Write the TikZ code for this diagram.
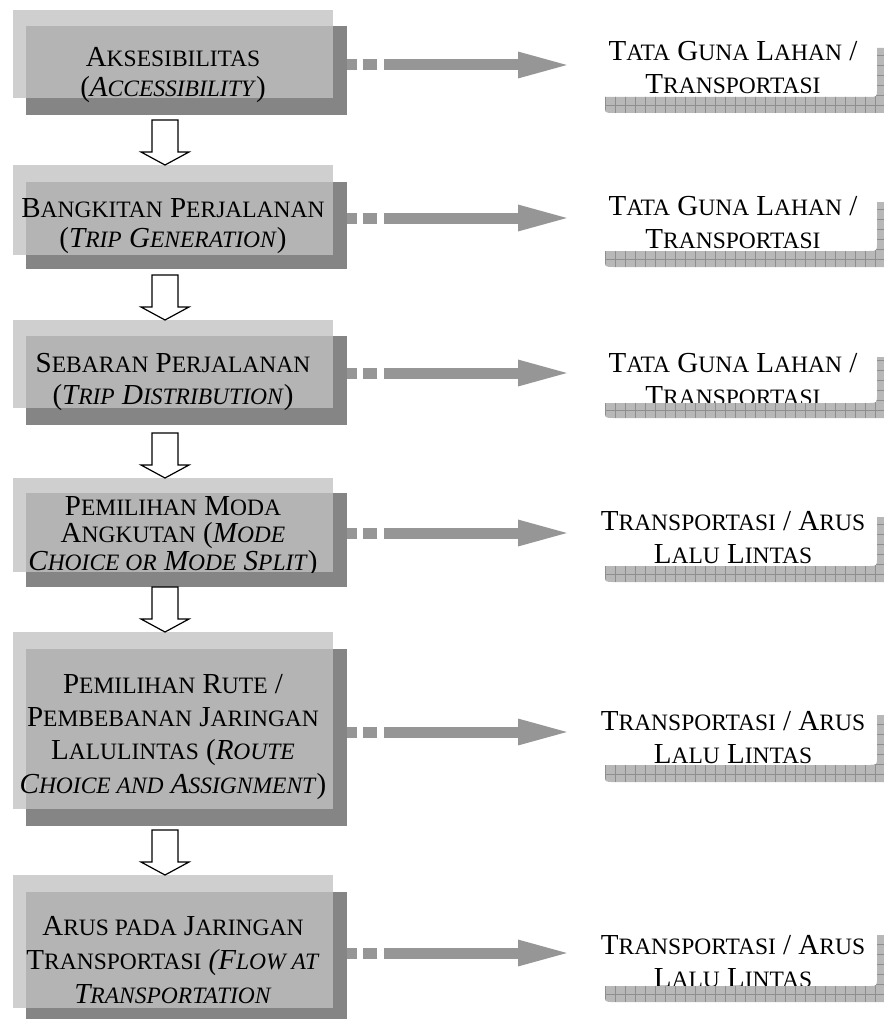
\documentclass[tikz,border=0pt]{standalone}
\usepackage{fontspec}
\setmainfont{Liberation Serif}
\usepackage{tikz}
\usetikzlibrary{arrows.meta}
\definecolor{cfront}{HTML}{C2C2C2}
\definecolor{cshade}{HTML}{858585}
\definecolor{cflow}{HTML}{969696}
\definecolor{cstrip}{HTML}{B8B8B8}
\definecolor{cgrid}{HTML}{8E8E8E}
\newcommand{\besar}[1]{\fontsize{29}{#1}\selectfont}
\newcommand{\kc}[1]{{\fontsize{23.5}{30}\selectfont #1}}

\begin{document}
\begin{tikzpicture}[x=1pt,y=-1pt,
    shadebox/.style={fill=cshade,inner sep=0pt,minimum width=321pt,anchor=north west},
    frontbox/.style={fill=cfront,fill opacity=.78,inner sep=0pt,minimum width=320pt,anchor=north west},
    boxtext/.style={align=center,inner sep=0pt,anchor=base},
    endtext/.style={align=center,inner sep=0pt,anchor=base,font=\besar{33}},
    flow/.style={draw=cflow,line width=11pt,dash pattern=on 10pt off 6pt on 14pt off 7pt on 400pt,
      -{Triangle[length=55pt,width=23pt,fill=cflow]}},
    hollow/.style={draw=black,fill=white,line width=1.2pt,line join=miter},
    gridline/.style={draw=cgrid,line width=.6pt}]
    \useasboundingbox (0,0) rectangle (883,1019);

    % shadows and boxes
    \node[shadebox,minimum height=89pt] (s1) at (26,26) {};
    \node[shadebox,minimum height=87pt] (s2) at (26,182) {};
    \node[shadebox,minimum height=89pt] (s3) at (26,336) {};
    \node[shadebox,minimum height=94pt] (s4) at (26,493) {};
    \node[shadebox,minimum height=177pt] (s5) at (26,649) {};
    \node[shadebox,minimum height=133pt] (s6) at (26,892) {};
    \node[frontbox,minimum height=88pt] (f1) at (13,10) {};
    \node[frontbox,minimum height=90pt] (f2) at (13,165) {};
    \node[frontbox,minimum height=88pt] (f3) at (13,320) {};
    \node[frontbox,minimum height=94pt] (f4) at (13,478) {};
    \node[frontbox,minimum height=177pt] (f5) at (13,632) {};
    \node[frontbox,minimum height=133pt] (f6) at (13,875) {};

    % text sits on the baseline of its last line
    \node[boxtext,font=\besar{30}] (t1) at (173,97) {A\kc{KSESIBILITAS}\\(\textit{A\kc{CCESSIBILITY}})};
    \node[boxtext,font=\besar{30}] (t2) at (173,247) {B\kc{ANGKITAN} P\kc{ERJALANAN}\\(\textit{T\kc{RIP} G\kc{ENERATION}})};
    \node[boxtext,font=\besar{32}] (t3) at (173,404) {S\kc{EBARAN} P\kc{ERJALANAN}\\(\textit{T\kc{RIP} D\kc{ISTRIBUTION}})};
    \begin{scope}
      \clip (f4.north west) rectangle (f4.south east);
      \node[boxtext,font=\besar{27.5}] (t4) at (173,570) {P\kc{EMILIHAN} M\kc{ODA}\\A\kc{NGKUTAN} (\textit{M\kc{ODE}}\\\textit{C\kc{HOICE OR} M\kc{ODE} S\kc{PLIT}})};
    \end{scope}
    \node[boxtext,font=\besar{33.3}] (t5) at (173,793) {P\kc{EMILIHAN} R\kc{UTE} /\\P\kc{EMBEBANAN} J\kc{ARINGAN}\\L\kc{ALULINTAS} (\textit{R\kc{OUTE}}\\\textit{C\kc{HOICE AND} A\kc{SSIGNMENT}})};
    \node[boxtext,font=\besar{34}] (t6) at (173,1003) {A\kc{RUS PADA} J\kc{ARINGAN}\\T\kc{RANSPORTASI} \textit{(F\kc{LOW AT}}\\\textit{T\kc{RANSPORTATION}}};

    % down arrows
    \foreach \b in {f2,f3,f4,f5,f6}
      \draw[hollow] (165,0 |- \b.north) -- ++(-24,-13) -- ++(11,0) -- ++(0,-32) -- ++(26,0) -- ++(0,32) -- ++(11,0) -- cycle;

    % side arrows
    \foreach \i/\y in {1/65,2/218,3/373,4/533,5/732,6/953} {
      \coordinate (e\i) at (573,\y);
      \draw[flow] (s\i.east |- e\i) -- (e\i);
    }

    \node[endtext] (r1) at (733,94) {T\kc{ATA} G\kc{UNA} L\kc{AHAN} /\\T\kc{RANSPORTASI}};
    \node[endtext] (r2) at (733,248) {T\kc{ATA} G\kc{UNA} L\kc{AHAN} /\\T\kc{RANSPORTASI}};
    \node[endtext] (r3) at (733,405) {T\kc{ATA} G\kc{UNA} L\kc{AHAN} /\\T\kc{RANSPORTASI}};
    \node[endtext] (r4) at (733,563) {T\kc{RANSPORTASI} / A\kc{RUS}\\L\kc{ALU} L\kc{INTAS}};
    \node[endtext] (r5) at (733,763) {T\kc{RANSPORTASI} / A\kc{RUS}\\L\kc{ALU} L\kc{INTAS}};
    \node[endtext] (r6) at (733,987) {T\kc{RANSPORTASI} / A\kc{RUS}\\L\kc{ALU} L\kc{INTAS}};

    % grid strips under the labels
    \foreach \st/\sb/\vt in {97/113/48,251/267/202,403/418/357,566/582/517,765/782/715,986/1002/935}
      \fill[cstrip,path picture={
          \foreach \gx in {605,615,...,895}
            \draw[gridline] (\gx,\vt) -- (\gx,\sb);
          \foreach \k in {0,...,7}
            \draw[gridline] (605,\sb-8-10*\k) -- (895,\sb-8-10*\k);
        }]
        (895,\vt) -- (877,\vt) -- (877,\st-8) .. controls (877,\st) .. (869,\st)
        -- (605,\st) -- (605,\sb-8) .. controls (605,\sb) .. (613,\sb) -- (895,\sb) -- cycle;
  \end{tikzpicture}
\end{document}
